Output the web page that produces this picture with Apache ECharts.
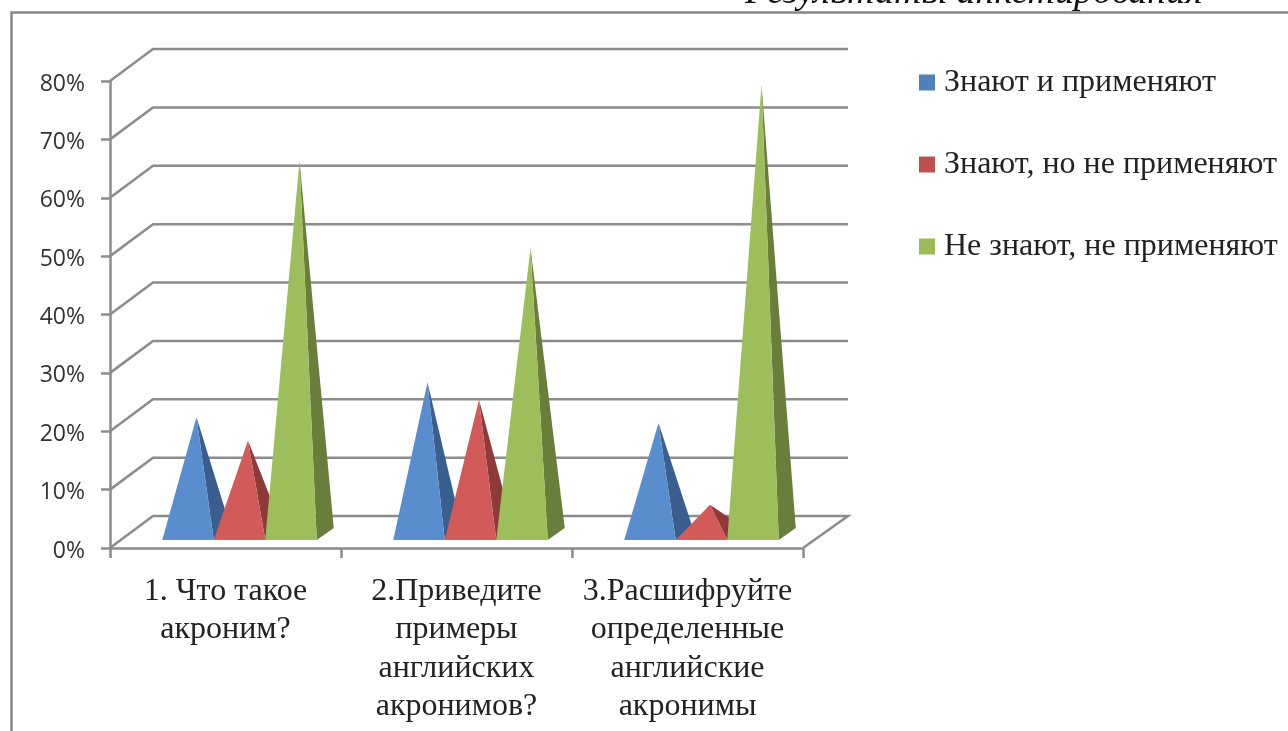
<!DOCTYPE html>
<html>
<head>
<meta charset="utf-8">
<style>html,body{margin:0;padding:0;background:#fff;overflow:hidden}#c{width:1288px;height:731px}</style>
<script src="https://cdn.jsdelivr.net/npm/echarts@6/dist/echarts.min.js"></script>
</head>
<body>
<div id="c"></div>
<script>
const titleText = 'Результаты анкетирования';
const categories = ['1. Что такое\nакроним?', '2.Приведите\nпримеры\nанглийских\nакронимов?', '3.Расшифруйте\nопределенные\nанглийские\nакронимы'];
const seriesNames = ['Знают и применяют', 'Знают, но не применяют', 'Не знают, не применяют'];
const known = [20, 26, 19];
const knownUnused = [16, 23, 5];
const unknown = [64, 49, 77];
const yTicks = [0, 10, 20, 30, 40, 50, 60, 70, 80];
const frontColors = ['#5a8dce', '#d25a58', '#9dbf5b'];
const sideColors = ['#3a5f8e', '#8d3a38', '#677f3b'];
const legendColors = ['#4f81bd', '#c0504d', '#9bbb59'];

const GRID = '#8c8c8c';
const DX = 43, DY = 32;          // depth of the 3D box
const BAR_W = 51.5;              // pyramid base width
const BASE_FRONT = 8, BASE_DX = 17, BASE_DY = 12, SHIFT = 14;

function wallItem(params, api) {
  const cs = params.coordSys;
  const y = api.coord([0, api.value(0)])[1];
  const x0 = cs.x, x1 = cs.x + cs.width;
  const pts = [[x0, y], [x0 + DX, y - DY], [x1 + DX + 2, y - DY]];
  if (api.value(0) === 0) pts.push([x1, y]);
  return { type: 'polyline', shape: { points: pts }, style: { stroke: GRID, lineWidth: 2.5, fill: null } };
}

function pyramidItem(params, api) {
  const idx = params.seriesIndex - 1;
  const c = api.coord([api.value(0), 0]);
  const top = api.coord([api.value(0), api.value(1)]);
  const k = idx - 1;
  const cx = c[0] + SHIFT + k * BAR_W;
  const yf = c[1] - BASE_FRONT;
  const l = cx - BAR_W / 2, r = cx + BAR_W / 2;
  const apex = [cx + BASE_DX / 2, top[1] - BASE_FRONT - BASE_DY / 2];
  return {
    type: 'group',
    children: [
      { type: 'polygon', shape: { points: [[r, yf], [r + BASE_DX, yf - BASE_DY], apex] }, style: { fill: sideColors[k + 1] } },
      { type: 'polygon', shape: { points: [[l, yf], [r, yf], apex] }, style: { fill: frontColors[k + 1] } }
    ]
  };
}

function pyramidSeries(i, vals) {
  return {
    name: seriesNames[i], type: 'custom', renderItem: pyramidItem, clip: false, z: 3,
    itemStyle: { color: legendColors[i] },
    encode: { x: 0, y: 1 },
    data: vals.map((v, j) => [j, v])
  };
}

const chart = echarts.init(document.getElementById('c'), null, { renderer: 'canvas' });
chart.setOption({
  animation: false,
  backgroundColor: '#fff',
  title: {
    text: titleText, left: 740, top: -31,
    textStyle: { fontFamily: 'Liberation Serif', fontStyle: 'italic', fontWeight: 'normal', fontSize: 38, color: '#111' }
  },
  graphic: [{
    type: 'polyline', silent: true, z: 0,
    shape: { points: [[11.5, 740], [11.5, 12.5], [1300, 12.5]] },
    style: { stroke: '#868686', lineWidth: 2.5, fill: null }
  }],
  grid: { left: 110, top: 81, width: 693, height: 467 },
  legend: {
    orient: 'vertical', left: 914, top: 57.5, icon: 'rect',
    itemWidth: 16, itemHeight: 16, itemGap: 42,
    data: seriesNames,
    selectedMode: false,
    textStyle: { fontFamily: 'Liberation Serif', fontSize: 32, color: '#222', padding: [8, 0, 0, 4], lineHeight: 32 }
  },
  xAxis: {
    type: 'category', data: categories,
    axisLine: { lineStyle: { color: GRID, width: 2.5 } },
    axisTick: { show: true, alignWithLabel: false, length: 10, lineStyle: { color: GRID, width: 2.5 } },
    axisLabel: { interval: 0, margin: 24, fontFamily: 'Liberation Serif', fontSize: 32, lineHeight: 38.5, color: '#222' },
    splitLine: { show: false }
  },
  yAxis: {
    type: 'value', min: 0, max: 80, interval: 10,
    axisLine: { show: true, lineStyle: { color: GRID, width: 2.5 } },
    axisTick: { show: true, length: 9, lineStyle: { color: GRID, width: 2.5 } },
    axisLabel: { margin: 25, fontFamily: 'Open Sans', fontSize: 23, color: '#333', verticalAlign: 'top', lineHeight: 6, formatter: '{value}%' },
    splitLine: { show: false }
  },
  series: [
    { type: 'custom', name: 'walls', renderItem: wallItem, clip: false, z: 1, silent: true,
      encode: { y: 0 }, data: yTicks.map(v => [v]) },
    pyramidSeries(0, known),
    pyramidSeries(1, knownUnused),
    pyramidSeries(2, unknown)
  ]
});
</script>
</body>
</html>
